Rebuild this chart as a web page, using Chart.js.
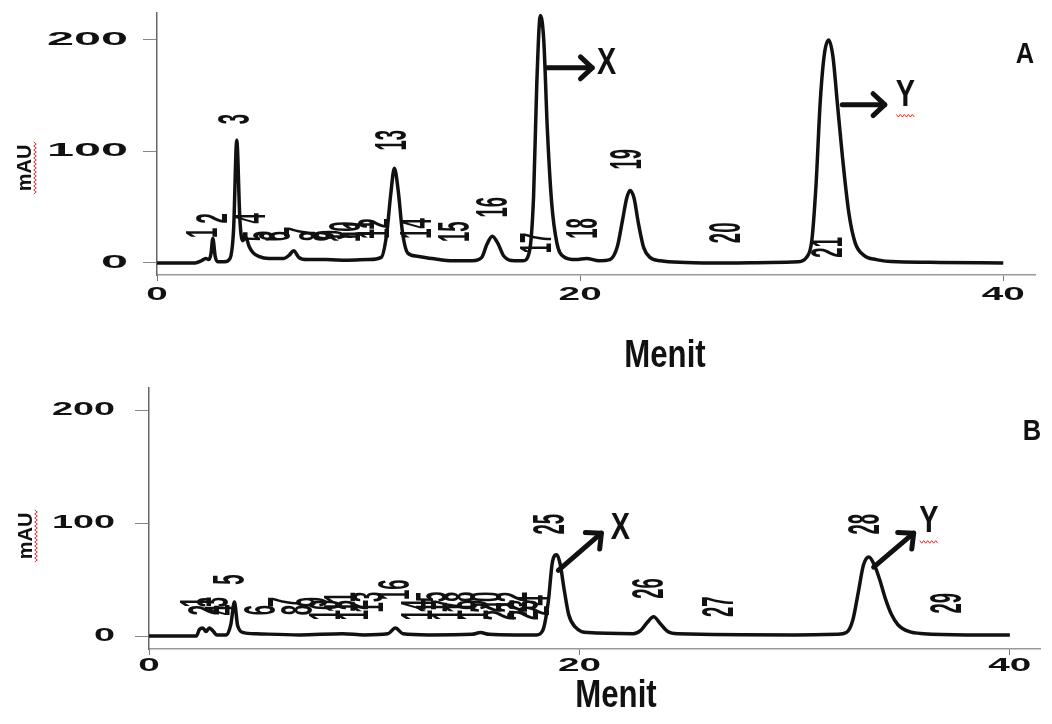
<!DOCTYPE html>
<html>
<head>
<meta charset="utf-8">
<script src="https://cdn.jsdelivr.net/npm/chart.js@4.4.1/dist/chart.umd.min.js"></script>
<style>
  html, body { margin: 0; padding: 0; background: #fff; }
  #wrap { position: relative; width: 1052px; height: 724px; overflow: hidden; }
  canvas { position: absolute; left: 0; }
  #chartA { top: 0; }
  #chartB { top: 372px; }
</style>
</head>
<body>
<div id="wrap">
  <canvas id="chartA" width="1052" height="372"></canvas>
  <canvas id="chartB" width="1052" height="352"></canvas>
</div>
<script>
/* HPLC chromatograms A and B, drawn as Chart.js line charts */

// --- data (minutes / mAU) ---
const timeA = [
  0, 1.8, 2.1, 2.3, 2.45, 2.55, 2.64, 2.75, 2.9, 3.2,
  3.45, 3.62, 3.77, 3.92, 4.05, 4.2, 4.35, 4.55, 4.8, 5.3,
  6.0, 6.25, 6.46, 6.7, 7.1, 8.0, 9.0, 10.0, 10.6, 10.85,
  11.05, 11.22, 11.4, 11.6, 11.85, 12.3, 13.0, 14.0, 14.9, 15.35,
  15.6, 15.85, 16.1, 16.4, 16.9, 17.3, 17.6, 17.8, 17.95, 18.12,
  18.28, 18.45, 18.65, 18.9, 19.2, 19.8, 20.3, 20.9, 21.4, 21.75,
  22.0, 22.2, 22.36, 22.55, 22.75, 23.0, 23.3, 23.8, 25.0, 27.0,
  29.0, 30.3, 30.7, 30.95, 31.15, 31.35, 31.55, 31.75, 31.95, 32.15,
  32.4, 32.7, 33.0, 33.4, 34.0, 35.0, 37.0, 40.0,
];
const signalA = [
  0, 0, 2, 4, 3, 8, 22, 6, 1, 1,
  4, 30, 110, 38, 20, 23, 15, 9, 6, 4,
  4, 7, 11, 5, 3, 3, 2.5, 3, 5, 25,
  62, 85, 65, 28, 9, 6, 4, 2, 2, 5,
  17, 24, 18, 6, 2, 2, 10, 60, 160, 222,
  200, 120, 55, 18, 6, 3, 4, 2, 3, 14,
  38, 58, 65, 58, 36, 14, 5, 2, 0.5, 0,
  0.5, 1, 5, 20, 70, 145, 188, 200, 185, 145,
  95, 45, 18, 7, 3, 1, 0.5, 0,
];

const timeB = [
  0, 2.2, 2.35, 2.5, 2.65, 2.8, 2.95, 3.15, 3.6, 3.8,
  3.97, 4.12, 4.4, 5.0, 7.0, 9.0, 10.0, 11.1, 11.45, 11.8,
  13.0, 15.0, 15.4, 15.8, 17.0, 18.0, 18.3, 18.55, 18.75, 18.95,
  19.1, 19.3, 19.5, 19.8, 20.4, 22.5, 22.85, 23.15, 23.45, 23.75,
  24.1, 24.6, 30.0, 32.0, 32.4, 32.7, 32.95, 33.2, 33.45, 33.7,
  33.95, 34.2, 34.5, 34.8, 35.3, 36.0, 38.0, 40.0,
];
const signalB = [
  0, 0, 6, 7, 4, 7, 5, 1, 1, 10,
  30, 9, 3, 2, 1, 2, 1, 2, 7, 2,
  1, 1.5, 3, 1.5, 1, 1, 5, 30, 66, 72,
  64, 40, 19, 8, 3, 2, 5, 12, 17, 11,
  4, 2, 1, 1.5, 3, 14, 38, 63, 70, 63,
  50, 34, 19, 10, 4, 2, 1, 1,
];

// peak numbers printed by the integrator
const peakNamesA = ["1", "2", "3", "4", "5", "6", "7", "8", "9", "10", "11",
  "12", "13", "14", "15", "16", "17", "18", "19", "20", "21"];
const peakTimesA = [2.26, 2.74, 3.77, 4.53, 4.95, 5.7, 6.9, 7.6, 8.3, 9.0, 9.7,
  10.4, 11.2, 12.4, 14.15, 15.95, 18.07, 20.2, 22.3, 27.0, 31.8];
const peakLabelYA = [27, 40, 129, 40, 24, 24, 28, 24, 25, 28, 30,
  31, 110, 31, 28, 50, 18, 31, 93, 27, 14];

const peakNamesB = ["1", "2", "3", "4", "5", "6", "7", "8", "9", "10",
  "11", "12", "13", "14", "15", "16", "17", "18", "19", "20",
  "21", "22", "23", "24", "25", "26", "27", "28", "29"];
const peakTimesB = [2.3, 2.7, 3.1, 3.5, 3.86, 5.3, 6.4, 7.0, 7.7, 8.3,
  9.0, 9.6, 10.3, 12.6, 13.3, 11.53, 14.0, 14.6, 15.2, 15.8,
  16.4, 17.0, 17.5, 18.0, 18.74, 23.3, 26.56, 33.35, 37.16];
const peakLabelYB = [30, 23, 30, 23, 50, 23, 30, 23, 30, 23,
  30, 23, 30, 23, 30, 41, 23, 30, 23, 30,
  23, 30, 23, 27, 99, 42, 26, 99, 29];

const xTicks = [0, 20, 40];
const yTicks = [0, 100, 200];

// --- drawing helpers ---
const toPoints = (xs, ys) => xs.map((x, i) => ({ x, y: ys[i] }));

function drawText(ctx, text, x, y, font, opts = {}) {
  ctx.save();
  ctx.translate(x, y);
  if (opts.rot) ctx.rotate(opts.rot);
  ctx.scale(opts.sx || 1, opts.sy || 1);
  ctx.font = font;
  ctx.fillStyle = opts.color || "#111";
  ctx.textAlign = opts.align || "center";
  ctx.textBaseline = opts.baseline || "middle";
  ctx.fillText(text, 0, 0);
  ctx.restore();
}

function drawArrow(ctx, x1, y1, x2, y2) {
  const ang = Math.atan2(y2 - y1, x2 - x1);
  const h = 16;
  ctx.save();
  ctx.strokeStyle = "#111";
  ctx.lineWidth = 5;
  ctx.lineCap = "round";
  ctx.lineJoin = "round";
  ctx.beginPath();
  ctx.moveTo(x1, y1);
  ctx.lineTo(x2, y2);
  ctx.stroke();
  ctx.beginPath();
  ctx.moveTo(x2 - h * Math.cos(ang - 0.75), y2 - h * Math.sin(ang - 0.75));
  ctx.lineTo(x2, y2);
  ctx.lineTo(x2 - h * Math.cos(ang + 0.75), y2 - h * Math.sin(ang + 0.75));
  ctx.stroke();
  ctx.restore();
}

// red spell-check squiggle
function squiggle(ctx, x1, y1, x2, y2) {
  const len = Math.hypot(x2 - x1, y2 - y1);
  const ux = (x2 - x1) / len, uy = (y2 - y1) / len;
  ctx.save();
  ctx.strokeStyle = "#e0302a";
  ctx.lineWidth = 1;
  ctx.beginPath();
  for (let d = 0, k = 0; d <= len; d += 2, k++) {
    const off = k % 2 ? 1.3 : -1.3;
    const px = x1 + ux * d - uy * off;
    const py = y1 + uy * d + ux * off;
    if (k === 0) ctx.moveTo(px, py); else ctx.lineTo(px, py);
  }
  ctx.stroke();
  ctx.restore();
}

const LABEL_FONT = "bold 44px 'Liberation Sans', Arial, sans-serif";
const TICK_FONT = "bold 18px 'Liberation Sans', Arial, sans-serif";
const BOLD = (px) => `bold ${px}px 'Liberation Sans', Arial, sans-serif`;

const decorPlugin = {
  id: "decor",
  afterDraw(chart) {
    const cfg = chart.$decor;
    const { ctx } = chart;
    const xs = chart.scales.x, ys = chart.scales.y;
    const off = cfg.offsetTop;
    const px = (v) => xs.getPixelForValue(v);
    const py = (v) => ys.getPixelForValue(v);

    // tick labels
    ys.ticks.forEach((t) => {
      drawText(ctx, String(t.value), cfg.yLabelRight, py(t.value), TICK_FONT,
        { sx: cfg.yLabelSx, align: "right" });
    });
    xs.ticks.forEach((t) => {
      drawText(ctx, String(t.value), px(t.value), cfg.xLabelY - off, TICK_FONT,
        { sx: 2.15 });
    });

    // peak numbers, rotated and condensed
    cfg.names.forEach((n, i) => {
      drawText(ctx, n, px(cfg.times[i]), py(cfg.heights[i]), LABEL_FONT,
        { rot: -Math.PI / 2, sx: 0.42 });
    });

    // axis titles
    drawText(ctx, "mAU", cfg.mau[0], cfg.mau[1] - off, BOLD(20), { rot: -Math.PI / 2 });
    squiggle(ctx, cfg.mau[0] + 10, cfg.mau[1] - off + 26, cfg.mau[0] + 10, cfg.mau[1] - off - 26);
    drawText(ctx, "Menit", cfg.menit[0], cfg.menit[1] - off, BOLD(38),
      { sx: 0.82, baseline: "alphabetic" });
    drawText(ctx, cfg.panel, cfg.panelPos[0], cfg.panelPos[1] - off, BOLD(30), { sx: 0.85 });

    // X / Y arrows
    cfg.arrows.forEach((a) => {
      drawArrow(ctx, px(a.from[0]), py(a.from[1]), px(a.to[0]), py(a.to[1]));
      const lx = px(a.label[0]), ly = py(a.label[1]);
      drawText(ctx, a.text, lx, ly, BOLD(36), { sx: 0.8 });
      if (a.text === "Y") squiggle(ctx, lx - 9, ly + 20, lx + 10, ly + 20);
    });
  },
};

function makeChart(id, times, signal, cfg) {
  const canvas = document.getElementById(id);
  const H = canvas.height;
  const a = cfg.area;
  const chart = new Chart(canvas, {
    type: "line",
    data: {
      datasets: [{
        data: toPoints(times, signal),
        borderColor: "#111",
        borderWidth: 3.5,
        pointRadius: 0,
        cubicInterpolationMode: "monotone",
        fill: false,
      }],
    },
    options: {
      responsive: false,
      animation: false,
      devicePixelRatio: 1,
      layout: {
        padding: { left: a.left - 20, right: 1052 - a.right, top: a.top, bottom: H - a.bottom - 20 },
      },
      plugins: { legend: { display: false }, tooltip: { enabled: false } },
      scales: {
        x: {
          type: "linear",
          min: 0,
          max: cfg.xMax,
          afterBuildTicks: (s) => { s.ticks = xTicks.map((v) => ({ value: v })); },
          afterFit: (s) => { s.height = 20; },
          grid: { drawOnChartArea: false, drawTicks: true, tickLength: 6, color: "#777" },
          border: { display: true, color: "#999", width: 1.5, dash: [4, 3] },
          ticks: { color: "rgba(0,0,0,0)", font: { size: 10 } },
        },
        y: {
          type: "linear",
          min: cfg.yMin,
          max: cfg.yMax,
          afterBuildTicks: (s) => { s.ticks = yTicks.map((v) => ({ value: v })); },
          afterFit: (s) => { s.width = 20; },
          grid: { drawOnChartArea: false, drawTicks: true, tickLength: 14, color: "#888" },
          border: { display: true, color: "#666", width: 1.5 },
          ticks: { color: "rgba(0,0,0,0)", font: { size: 10 } },
        },
      },
    },
    plugins: [{ id: "cfg", beforeInit(c) { c.$decor = cfg; } }, decorPlugin],
  });
  return chart;
}

makeChart("chartA", timeA, signalA, {
  offsetTop: 0,
  area: { left: 157, right: 1035, top: 13, bottom: 275 },
  xMax: 41.5, yMin: -10.8, yMax: 224.2,
  yLabelRight: 128, yLabelSx: 2.7, xLabelY: 295,
  names: peakNamesA, times: peakTimesA, heights: peakLabelYA,
  mau: [25, 168], menit: [665, 367], panel: "A", panelPos: [1025, 55],
  arrows: [
    { from: [18.44, 175], to: [20.57, 175], label: [21.25, 178], text: "X" },
    { from: [32.39, 142], to: [34.4, 142], label: [35.37, 150], text: "Y" },
  ],
});

makeChart("chartB", timeB, signalB, {
  offsetTop: 372,
  area: { left: 149, right: 1040, top: 16, bottom: 277 },
  xMax: 41.4, yMin: -11.5, yMax: 219.5,
  yLabelRight: 115, yLabelSx: 2.1, xLabelY: 666,
  names: peakNamesB, times: peakTimesB, heights: peakLabelYB,
  mau: [26, 536], menit: [616, 707], panel: "B", panelPos: [1032, 432],
  arrows: [
    { from: [19.02, 58], to: [21.02, 91], label: [21.9, 95], text: "X" },
    { from: [33.67, 61], to: [35.53, 91], label: [36.23, 101], text: "Y" },
  ],
});
</script>
</body>
</html>
